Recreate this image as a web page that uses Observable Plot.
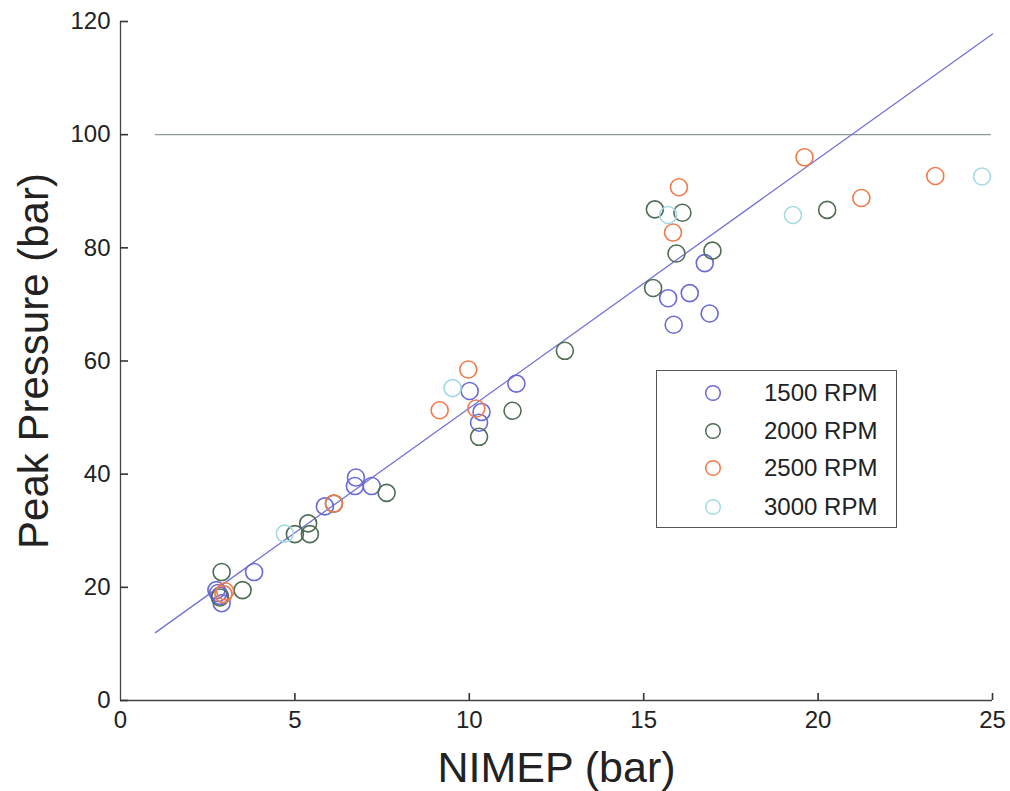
<!DOCTYPE html>
<html>
<head>
<meta charset="utf-8">
<script src="https://cdn.jsdelivr.net/npm/d3@7"></script>
<script src="https://cdn.jsdelivr.net/npm/@observablehq/plot@0.6"></script>
<style>
  body { margin: 0; background: #fff; }
  #wrap { position: relative; width: 1010px; height: 791px; font-family: "Liberation Sans", Arial, sans-serif; }
  #legend { position: absolute; left: 656px; top: 370px; width: 241px; height: 158px; border: 1.3px solid #555; box-sizing: border-box; }
  .row { position: absolute; left: 0; height: 30px; }
  .row svg { position: absolute; left: 47px; top: 0; }
  .row span { position: absolute; left: 107px; top: 0; font-size: 24px; color: #222; white-space: nowrap; line-height: 30px; }
</style>
</head>
<body>
<div id="wrap"></div>
<script>
// ---- data ----
const seriesNames = ["1500 RPM", "2000 RPM", "2500 RPM", "3000 RPM"];
const seriesColors = ["#6b6bd6", "#4f6d55", "#f07b4c", "#a6dbe6"];

const rpm1500X = [2.75, 2.85, 2.9, 2.8, 3.83, 5.86, 6.75, 6.72, 7.2, 10.01, 10.35, 10.28, 11.35, 16.75, 15.7, 16.32, 16.89, 15.86];
const rpm1500Y = [19.5, 18.5, 17.2, 19.0, 22.7, 34.3, 39.4, 37.9, 37.9, 54.7, 51.0, 49.1, 56.0, 77.3, 71.1, 72.0, 68.4, 66.4];

const rpm2000X = [2.9, 3.5, 2.85, 5.0, 5.38, 5.43, 6.12, 7.63, 10.28, 11.24, 12.74, 15.32, 16.11, 15.94, 16.97, 15.27, 20.26];
const rpm2000Y = [22.7, 19.5, 18.2, 29.4, 31.3, 29.4, 34.8, 36.7, 46.6, 51.2, 61.8, 86.8, 86.2, 79.0, 79.5, 72.9, 86.7];

const rpm2500X = [2.95, 3.0, 6.12, 9.97, 9.15, 10.2, 16.01, 15.84, 19.61, 21.24, 23.36];
const rpm2500Y = [18.8, 19.3, 34.8, 58.5, 51.3, 51.6, 90.7, 82.7, 96.0, 88.8, 92.7];

const rpm3000X = [4.71, 9.52, 15.7, 19.28, 24.7];
const rpm3000Y = [29.5, 55.2, 85.8, 85.8, 92.6];

const fitX = [1, 25];
const fitY = [12, 117.8];

const limitY = 100;
const limitX = [1, 24.97];

const xTicks = [0, 5, 10, 15, 20, 25];
const yTicks = [0, 20, 40, 60, 80, 100, 120];
const xLabel = "NIMEP (bar)";
const yLabel = "Peak Pressure (bar)";

// ---- build ----
const W = 1010, H = 791, ML = 120, MR = 18, MT = 21, MB = 91;
const xDomain = [0, 25], yDomain = [0, 120];
const seriesX = [rpm1500X, rpm2000X, rpm2500X, rpm3000X];
const seriesY = [rpm1500Y, rpm2000Y, rpm2500Y, rpm3000Y];
const points = seriesNames.flatMap((name, k) =>
  seriesX[k].map((x, i) => ({ x, y: seriesY[k][i], s: name })));
const fit = fitX.map((x, i) => ({ x, y: fitY[i] }));
// inward tick lengths (8 px and 7 px) expressed in data units
const tickLenX = (xDomain[1] - xDomain[0]) * 8 / (W - ML - MR);
const tickLenY = (yDomain[1] - yDomain[0]) * 7 / (H - MT - MB);
const yTickRules = yTicks.map(v => ({ v, a: xDomain[0], b: xDomain[0] + tickLenX }));
const xTickRules = xTicks.slice(1).map(v => ({ v, a: yDomain[0], b: yDomain[0] + tickLenY }));

const chart = Plot.plot({
  width: W,
  height: H,
  marginLeft: ML,
  marginRight: MR,
  marginTop: MT,
  marginBottom: MB,
  x: { domain: xDomain },
  y: { domain: yDomain },
  color: { domain: seriesNames, range: seriesColors },
  style: { fontFamily: "'Liberation Sans', Arial, sans-serif", fontSize: "24px", color: "#222", background: "#fff" },
  marks: [
    Plot.ruleY([limitY], { x1: limitX[0], x2: limitX[1], stroke: "#8d9c95", strokeWidth: 1.3 }),
    Plot.line(fit, { x: "x", y: "y", stroke: "#7272d6", strokeWidth: 1.3 }),
    Plot.dot(points, { x: "x", y: "y", stroke: "s", r: 8.5, strokeWidth: 1.6 }),
    Plot.ruleX([xDomain[0]], { stroke: "#444", strokeWidth: 1.3 }),
    Plot.ruleY([yDomain[0]], { stroke: "#444", strokeWidth: 1.3 }),
    Plot.ruleY(yTickRules, { y: "v", x1: "a", x2: "b", stroke: "#333", strokeWidth: 1.6 }),
    Plot.ruleX(xTickRules, { x: "v", y1: "a", y2: "b", stroke: "#333", strokeWidth: 1.6 }),
    Plot.axisX({ ticks: xTicks, tickSize: 0, tickPadding: 10, label: null, fontSize: 24, fill: "#222" }),
    Plot.axisY({ ticks: yTicks, tickSize: 0, tickPadding: 10, label: null, fontSize: 24, fill: "#222" }),
    Plot.text([xLabel], { frameAnchor: "bottom", dy: 68, fontSize: 43, fill: "#222", lineAnchor: "middle", textAnchor: "middle" }),
    Plot.text([yLabel], { frameAnchor: "left", dx: -86, rotate: -90, fontSize: 42, fill: "#222", lineAnchor: "middle", textAnchor: "middle" })
  ]
});

const wrap = document.getElementById("wrap");
wrap.appendChild(chart);

// legend
const legend = document.createElement("div");
legend.id = "legend";
const rowTops = [7, 45, 82, 121];
seriesNames.forEach((name, k) => {
  const row = document.createElement("div");
  row.className = "row";
  row.style.top = rowTops[k] + "px";
  row.innerHTML = `<svg width="18" height="30" viewBox="0 0 18 30"><circle cx="9" cy="15" r="7.3" fill="none" stroke="${seriesColors[k]}" stroke-width="1.5"/></svg><span>${name}</span>`;
  legend.appendChild(row);
});
wrap.appendChild(legend);
</script>
</body>
</html>
